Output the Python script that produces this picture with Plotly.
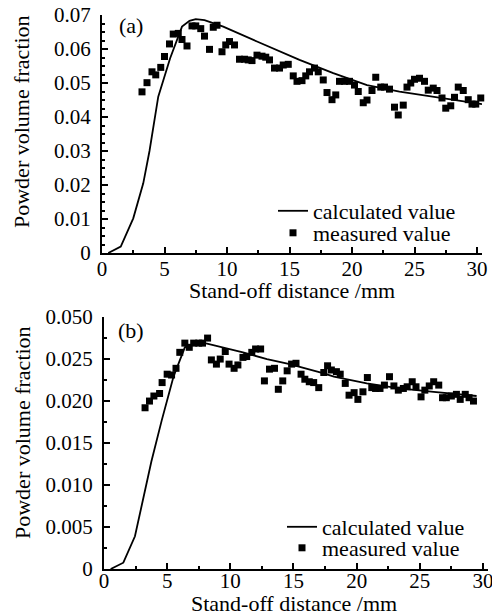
import plotly.graph_objects as go

# ---------------- data (a) ----------------
calc_a_x = [0.5, 1.5, 2.5, 3.3, 3.8, 4.5, 5.45, 6.4, 7.0, 7.5, 8.2, 9.7, 12.4, 15.0, 15.8, 18.5, 21.2, 23.8, 26.5, 29.2, 30.4]
calc_a_y = [0.0, 0.0019, 0.0102, 0.0205, 0.030, 0.046, 0.0573, 0.0666, 0.0683, 0.0688, 0.0685, 0.0666, 0.0622, 0.0580, 0.0568, 0.0529, 0.0494, 0.0475, 0.0460, 0.0445, 0.0438]

meas_a_x = [3.2, 3.6, 4.0, 4.3, 4.7, 5.0, 5.4, 5.7, 6.1, 6.4, 6.8, 7.2, 7.5, 7.9, 8.2, 8.6, 8.9, 9.2, 9.6, 9.9,
            10.2, 10.6, 11.0, 11.4, 11.7, 12.0, 12.4, 12.8, 13.1, 13.4, 13.8, 14.2, 14.5, 14.9, 15.3, 15.6, 16.0, 16.3, 16.6, 17.0,
            17.3, 17.7, 18.0, 18.4, 18.7, 19.0, 19.4, 19.8, 20.2, 20.5, 20.9, 21.2, 21.6, 21.9, 22.3, 22.6, 23.0, 23.4, 23.7, 24.1,
            24.4, 24.7, 25.0, 25.4, 25.8, 26.1, 26.5, 26.8, 27.2, 27.5, 27.9, 28.2, 28.5, 28.9, 29.3, 29.6, 29.9, 30.3]
meas_a_y = [0.0474, 0.0501, 0.0533, 0.0524, 0.0546, 0.0578, 0.0615, 0.0644, 0.0646, 0.0628, 0.0609, 0.0668, 0.0668, 0.0660, 0.0638, 0.0599, 0.0664, 0.0670, 0.0592, 0.0612,
            0.0622, 0.0612, 0.0570, 0.0570, 0.0568, 0.0566, 0.0582, 0.0579, 0.0576, 0.0568, 0.0544, 0.0544, 0.0553, 0.0555, 0.0521, 0.0505, 0.0507, 0.0521, 0.0533, 0.0544,
            0.0533, 0.0509, 0.0472, 0.0451, 0.0465, 0.0505, 0.0505, 0.0505, 0.0494, 0.0475, 0.0442, 0.0450, 0.0478, 0.0517, 0.0488, 0.0488, 0.0482, 0.0429, 0.0406, 0.0435,
            0.0488, 0.0500, 0.0511, 0.0514, 0.0505, 0.0479, 0.0485, 0.0478, 0.0456, 0.0426, 0.0433, 0.0458, 0.0488, 0.0478, 0.0451, 0.0438, 0.0438, 0.0456]

# ---------------- data (b) ----------------
calc_b_x = [0.53, 1.53, 2.45, 3.1, 3.75, 4.57, 5.5, 6.4, 7.1, 8.0, 9.45, 11.0, 12.9, 14.7, 17.4, 18.2, 20.8, 23.4, 26.1, 28.7, 29.5]
calc_b_y = [0.0, 0.00075, 0.0039, 0.0082, 0.0128, 0.0177, 0.0229, 0.0264, 0.0268, 0.0269, 0.0264, 0.0258, 0.0250, 0.0244, 0.0233, 0.0229, 0.0221, 0.0215, 0.0211, 0.0207, 0.0206]

meas_b_x = [3.25, 3.6, 3.95, 4.4, 4.6, 5.0, 5.35, 5.7, 6.0, 6.4, 6.75, 7.1, 7.5, 7.8, 8.2, 8.5, 8.9, 9.2, 9.6, 9.9,
            10.3, 10.6, 11.0, 11.3, 11.7, 12.0, 12.4, 12.7, 13.1, 13.5, 13.8, 14.15, 14.5, 14.85, 15.2, 15.6, 15.9, 16.25, 16.6, 17.0,
            17.4, 17.7, 18.0, 18.4, 18.7, 19.1, 19.4, 19.8, 20.1, 20.5, 20.85, 21.2, 21.5, 21.85, 22.2, 22.6, 22.95, 23.3, 23.7, 24.0,
            24.4, 24.7, 25.1, 25.4, 25.75, 26.1, 26.5, 26.8, 27.1, 27.5, 27.9, 28.2, 28.6, 28.9, 29.25]
meas_b_y = [0.0192, 0.0200, 0.0206, 0.0209, 0.0222, 0.0232, 0.0231, 0.0239, 0.0258, 0.0269, 0.0264, 0.0269, 0.0269, 0.0269, 0.0275, 0.0249, 0.0244, 0.0250, 0.0259, 0.0244,
            0.0239, 0.0243, 0.0252, 0.0253, 0.0258, 0.0262, 0.0262, 0.0224, 0.0238, 0.0239, 0.0214, 0.0224, 0.0236, 0.0244, 0.0245, 0.0232, 0.0226, 0.0223, 0.0222, 0.0216,
            0.0234, 0.0242, 0.0237, 0.0235, 0.0232, 0.0221, 0.0207, 0.0210, 0.0202, 0.0211, 0.0228, 0.0216, 0.0215, 0.0215, 0.0219, 0.0229, 0.0218, 0.0213, 0.0215, 0.0217,
            0.0223, 0.0217, 0.0205, 0.0213, 0.0218, 0.0223, 0.0219, 0.0204, 0.0204, 0.0206, 0.0208, 0.0202, 0.0208, 0.0204, 0.0200]

# tick labels
a_y_ticks = [0, 0.01, 0.02, 0.03, 0.04, 0.05, 0.06, 0.07]
a_y_text = ["0", "0.01", "0.02", "0.03", "0.04", "0.05", "0.06", "0.07"]
b_y_ticks = [0, 0.005, 0.010, 0.015, 0.020, 0.025, 0.030]
b_y_text = ["0", "0.005", "0.010", "0.015", "0.020", "0.025", "0.050"]
x_ticks = [0, 5, 10, 15, 20, 25, 30]
x_text = ["0", "5", "10", "15", "20", "25", "30"]

names = ["calculated value", "measured value"]
x_title = "Stand-off distance /mm"
y_title = "Powder volume fraction"

FONT = "Liberation Serif, DejaVu Serif, serif"

# the page body adds an 8 px margin; figure is sized so reference pixel = fig pixel + 8
def px(xr):
    return (xr - 100) / 390

def py(yr):
    return (606 - yr) / 596

fig = go.Figure()

fig.add_trace(go.Scatter(x=calc_a_x, y=calc_a_y, mode="lines", name=names[0], showlegend=True,
                         line=dict(color="black", width=1.8), xaxis="x", yaxis="y", legend="legend"))
fig.add_trace(go.Scatter(x=meas_a_x, y=meas_a_y, mode="markers", name=names[1], showlegend=True,
                         marker=dict(symbol="square", size=7, color="black"), cliponaxis=False,
                         xaxis="x", yaxis="y", legend="legend3"))
fig.add_trace(go.Scatter(x=calc_b_x, y=calc_b_y, mode="lines", name=names[0], showlegend=True,
                         line=dict(color="black", width=1.8), xaxis="x2", yaxis="y2", legend="legend2"))
fig.add_trace(go.Scatter(x=meas_b_x, y=meas_b_y, mode="markers", name=names[1], showlegend=True,
                         marker=dict(symbol="square", size=7, color="black"), cliponaxis=False,
                         xaxis="x2", yaxis="y2", legend="legend4"))

axis_common = dict(showline=True, linecolor="black", linewidth=2, showgrid=False, zeroline=False,
                   ticks="inside", ticklen=6, tickwidth=1.8, tickcolor="black",
                   ticklabeloverflow="allow",
                   tickfont=dict(family=FONT, size=21, color="black"), automargin=False)
minor_x = dict(ticks="inside", ticklen=3, tickwidth=1.5, tickcolor="black", dtick=2.5, tick0=0)
minor_y = dict(ticks="inside", ticklen=3, tickwidth=1.5, tickcolor="black", dtick=0.0025, tick0=0)
leg_common = dict(xanchor="left", yanchor="middle", bgcolor="rgba(0,0,0,0)",
                  font=dict(family=FONT, size=22, color="black"))
ann_font = dict(family=FONT, size=22, color="black")

fig.update_layout(
    width=492, height=608,
    margin=dict(l=92, r=10, t=2, b=10),
    showlegend=True,
    paper_bgcolor="white", plot_bgcolor="white",
    font=dict(family=FONT, size=22, color="black"),
    xaxis=dict(domain=[px(102), px(482)], range=[0, 30.4], anchor="y",
               tickmode="array", tickvals=x_ticks, ticktext=x_text, minor=minor_x,
               ticklabelstandoff=-4, **axis_common),
    yaxis=dict(domain=[py(253), py(15)], range=[0, 0.07001], anchor="x",
               tickmode="array", tickvals=a_y_ticks, ticktext=a_y_text, minor=minor_y,
               ticklabelstandoff=5, **axis_common),
    xaxis2=dict(domain=[px(104), px(488)], range=[0, 30.4], anchor="y2",
                tickmode="array", tickvals=x_ticks, ticktext=x_text, minor=minor_x,
                ticklabelstandoff=-8, **axis_common),
    yaxis2=dict(domain=[py(569), py(317)], range=[0, 0.03001], anchor="x2",
                tickmode="array", tickvals=b_y_ticks, ticktext=b_y_text, minor=minor_y,
                ticklabelstandoff=5, **axis_common),
    legend=dict(x=px(273), y=py(211), **leg_common),
    legend3=dict(x=px(273), y=py(233), **leg_common),
    legend2=dict(x=px(282), y=py(527), **leg_common),
    legend4=dict(x=px(282), y=py(548), **leg_common),
    annotations=[
        dict(text="(a)", x=px(117), y=py(25), xref="paper", yref="paper",
             xanchor="left", yanchor="middle", showarrow=False, font=ann_font),
        dict(text="(b)", x=px(116), y=py(330), xref="paper", yref="paper",
             xanchor="left", yanchor="middle", showarrow=False, font=ann_font),
        dict(text=x_title, x=px(292), y=py(290), xref="paper", yref="paper",
             xanchor="center", yanchor="middle", showarrow=False, font=ann_font),
        dict(text=x_title, x=px(294), y=py(603), xref="paper", yref="paper",
             xanchor="center", yanchor="middle", showarrow=False, font=ann_font),
        dict(text=y_title, x=px(22), y=py(122), xref="paper", yref="paper", textangle=-90,
             xanchor="center", yanchor="middle", showarrow=False, font=ann_font),
        dict(text=y_title, x=px(22), y=py(433), xref="paper", yref="paper", textangle=-90,
             xanchor="center", yanchor="middle", showarrow=False, font=ann_font),
    ],
)

fig.write_html("out.html")
